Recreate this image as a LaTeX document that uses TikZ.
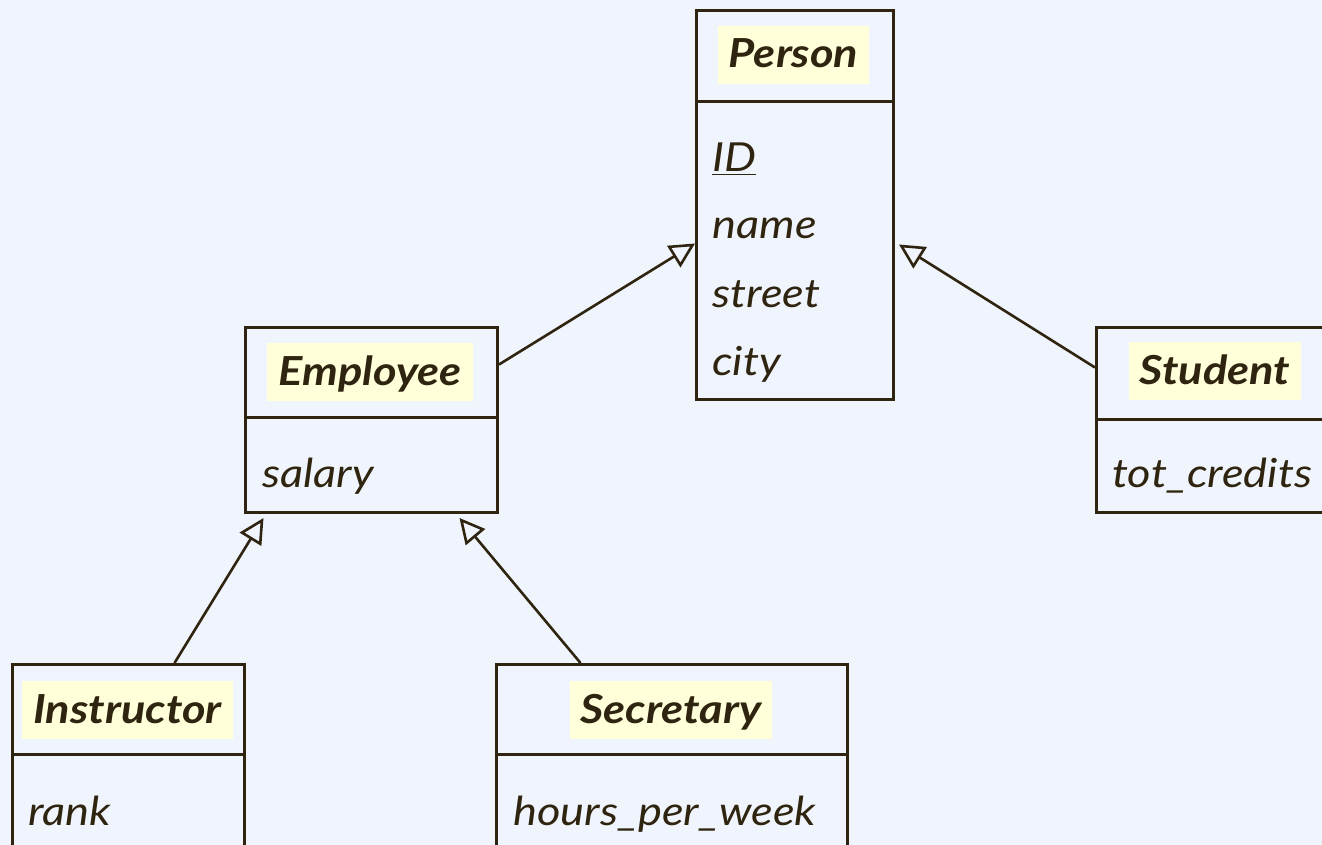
\documentclass[tikz,border=0pt]{standalone}
\usepackage{fontspec}
\setmainfont{Lato}[FakeStretch=1.13]
\usetikzlibrary{arrows.meta}
\definecolor{bg}{HTML}{F0F5FD}
\definecolor{ink}{HTML}{2F2410}
\definecolor{hl}{HTML}{FFFFDA}
\tikzset{
  box/.style={draw=ink, line width=1.5pt, anchor=north west, inner sep=0pt},
  title/.style={fill=hl, text=ink, font=\fontsize{20}{24}\selectfont\bfseries\itshape,
    inner xsep=5.5pt, inner ysep=0pt, text height=21pt, text depth=8pt, anchor=base},
  attr/.style={text=ink, font=\fontsize{20}{24}\selectfont\itshape, inner sep=0pt, anchor=base west},
  gen/.style={draw=ink, line width=1.3pt, -{Triangle[open, length=12.5pt, width=12.5pt, fill=bg]}}
}
\begin{document}
\begin{tikzpicture}[x=0.5pt, y=-0.5pt]
\fill[bg] (0,0) rectangle (1322,845);
\useasboundingbox (0,0) rectangle (1322,845);

% Person
\node[box, minimum width=98.5pt, minimum height=45.5pt] (personH) at (695,9) {};
\node[box, minimum width=98.5pt, minimum height=149pt] (personB) at (695,100) {};
\node[title] (personT) at (793.5,68) {Person};
\node[attr] (pID) at (712,172) {\underline{ID}};
\node[attr] (pname) at (712,239) {name};
\node[attr] (pstreet) at (712,307) {street};
\node[attr] (pcity) at (712,375) {city};

% Employee
\node[box, minimum width=126pt, minimum height=45pt] (empH) at (244,326) {};
\node[box, minimum width=126pt, minimum height=47.5pt] (empB) at (244,416) {};
\node[title] (empT) at (370,385) {Employee};
\node[attr] (esal) at (262,487) {salary};

% Student
\node[box, minimum width=120pt, minimum height=46pt] (stuH) at (1095,326) {};
\node[box, minimum width=120pt, minimum height=46.5pt] (stuB) at (1095,418) {};
\node[title] (stuT) at (1215,384) {Student};
\node[attr] (stot) at (1112,487) {tot\_credits};

% Instructor
\node[box, minimum width=116pt, minimum height=45pt] (instH) at (11,663) {};
\node[box, minimum width=116pt, minimum height=47.5pt] (instB) at (11,753) {};
\node[title] (instT) at (127.5,723) {Instructor};
\node[attr] (irank) at (28,825) {rank};

% Secretary
\node[box, minimum width=175.5pt, minimum height=45pt] (secH) at (495,663) {};
\node[box, minimum width=175.5pt, minimum height=47.5pt] (secB) at (495,753) {};
\node[title] (secT) at (671,723) {Secretary};
\node[attr] (shours) at (513,825) {hours\_per\_week};

% Generalisation arrows
\draw[gen] ([yshift=4pt]empH.east) -- ([yshift=3.5pt]personB.west);
\draw[gen] ([yshift=3pt]stuH.west) -- ([xshift=2pt,yshift=3pt]personB.east);
\draw[gen] ([xshift=23pt]instH.north) -- ([xshift=-54pt,yshift=-2pt]empB.south);
\draw[gen] ([xshift=-45.75pt]secH.north) -- ([xshift=44pt,yshift=-2pt]empB.south);
\end{tikzpicture}
\end{document}
